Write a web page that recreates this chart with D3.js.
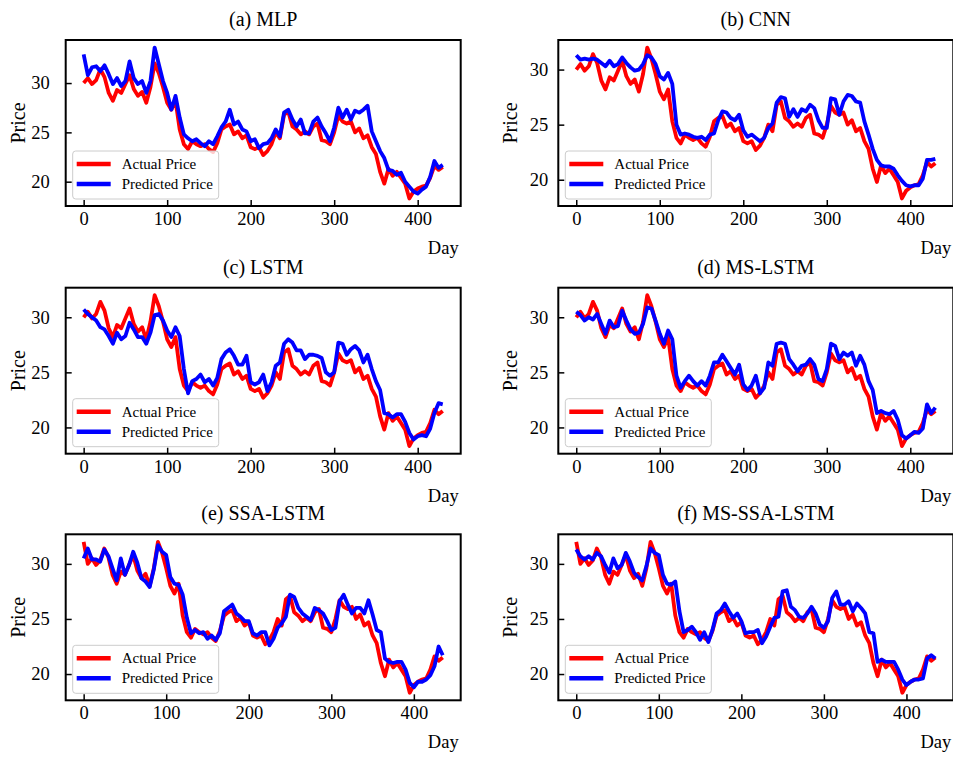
<!DOCTYPE html>
<html>
<head>
<meta charset="utf-8">
<script src="https://cdn.jsdelivr.net/npm/d3@7"></script>
<style>
  body { margin: 0; background: #ffffff; }
  text { font-family: "Liberation Serif", "Times New Roman", serif; fill: #000; }
</style>
</head>
<body>
<svg id="chart" width="953" height="757"></svg>
<script>
// Closing price sampled every 5 trading days over the long (SSA) test window.
// The MLP / CNN / LSTM / MS-LSTM windows start 5 days later (leadDays).
const sampleStep = 5;
const leadDays = 5;

const actualPrice = [
  32.0,
  30.0, 30.5, 29.9, 30.3, 31.4, 30.6, 29.0, 28.2, 29.3, 29.0,
  29.9, 30.8, 29.4, 28.7, 29.1, 28.0, 29.6, 32.0, 31.0, 29.6,
  28.0, 27.3, 28.2, 25.3, 23.8, 23.3, 24.1, 23.8, 23.6, 23.8,
  23.3, 23.0, 23.9, 25.3, 25.6, 25.8, 24.8, 25.1, 24.4, 24.7,
  23.5, 23.3, 23.5, 22.7, 23.1, 23.8, 25.0, 24.4, 26.8, 27.1,
  25.6, 25.3, 24.8, 25.1, 24.8, 25.6, 25.9, 24.2, 24.1, 23.8,
  25.0, 26.7, 26.1, 25.9, 26.1, 25.0, 25.4, 24.4, 24.7, 23.5,
  22.8, 21.0, 19.8, 21.3, 20.6, 21.0, 20.4, 19.8, 18.3, 19.0,
  19.3, 19.5, 19.6, 20.4, 21.6, 21.2, 21.5
];

const predMLP = [
  32.9, 30.8, 31.6, 31.7, 31.2, 31.8, 30.9, 29.9, 30.5, 29.7,
  30.2, 32.2, 30.5, 29.9, 30.2, 29.0, 30.2, 33.6, 31.9, 30.2,
  29.0, 27.3, 28.7, 26.5, 24.8, 24.4, 24.1, 24.3, 23.9, 23.6,
  24.1, 23.8, 24.6, 25.5, 26.1, 27.3, 25.8, 26.1, 25.3, 25.1,
  24.1, 24.3, 23.4, 23.8, 23.9, 24.4, 25.3, 24.6, 27.0, 27.3,
  26.3, 25.6, 26.3, 24.9, 24.9, 26.1, 26.5, 25.6, 24.9, 24.1,
  25.5, 27.5, 26.5, 27.3, 26.3, 27.2, 27.0, 27.3, 27.7, 25.1,
  24.1, 23.1, 22.4, 21.2, 21.1, 20.7, 20.9, 20.0, 19.5, 19.0,
  18.8, 19.2, 19.5, 20.5, 22.1, 21.4, 21.7
];

const predCNN = [
  31.3, 30.9, 31.0, 30.9, 31.0, 30.9, 30.6, 30.3, 30.8, 30.3,
  30.5, 31.1, 30.6, 30.2, 29.9, 30.0, 30.5, 31.3, 31.1, 30.5,
  29.4, 29.1, 29.7, 28.7, 25.0, 24.1, 24.2, 24.1, 23.9, 23.8,
  23.9, 23.6, 24.1, 24.2, 25.4, 26.2, 26.1, 25.6, 25.4, 25.9,
  24.5, 23.9, 24.1, 23.8, 23.5, 23.8, 24.7, 25.1, 27.0, 27.5,
  27.4, 25.7, 26.4, 25.7, 26.4, 26.2, 26.8, 26.5, 25.4, 24.7,
  24.7, 27.4, 27.3, 25.9, 27.1, 27.7, 27.6, 27.1, 27.0, 25.3,
  24.1, 22.8, 21.8, 21.3, 21.2, 21.2, 21.0, 20.4, 19.9, 19.5,
  19.4, 19.5, 19.5, 20.1, 21.8, 21.8, 21.9
];

const predLSTM = [
  30.7, 30.3, 30.0, 29.7, 29.1, 28.9, 28.3, 27.6, 28.6, 28.0,
  28.3, 29.5, 28.9, 28.2, 28.2, 27.6, 28.6, 30.2, 30.3, 29.7,
  28.8, 28.2, 29.1, 28.3, 25.3, 23.1, 24.2, 24.4, 24.8, 24.1,
  24.4, 23.8, 24.5, 26.2, 26.8, 27.1, 26.5, 25.7, 25.7, 26.5,
  24.1, 23.9, 24.1, 24.8, 23.3, 24.1, 25.6, 25.9, 27.6, 28.0,
  27.7, 27.0, 27.0, 26.2, 26.6, 26.6, 26.5, 26.3, 25.0, 24.7,
  25.0, 27.7, 27.6, 26.6, 27.1, 27.4, 27.0, 25.9, 26.6, 25.3,
  24.2, 23.4, 21.3, 21.2, 20.9, 21.2, 21.2, 20.5, 19.5, 18.9,
  19.2, 19.3, 19.2, 19.9, 21.3, 22.2, 22.1
];

const predMSLSTM = [
  30.5, 30.2, 29.7, 30.0, 29.8, 30.3, 29.4, 28.5, 29.7, 29.1,
  29.2, 30.6, 29.7, 28.9, 28.5, 28.6, 29.4, 30.9, 30.8, 29.7,
  28.5, 27.6, 28.8, 28.0, 24.7, 23.6, 24.2, 24.7, 24.2, 23.8,
  24.2, 23.8, 24.7, 25.9, 25.9, 26.6, 26.0, 25.4, 24.8, 25.7,
  23.9, 23.4, 23.8, 24.7, 23.1, 23.6, 25.9, 25.6, 27.6, 27.7,
  27.6, 26.2, 25.7, 25.1, 25.6, 25.7, 26.2, 25.7, 24.4, 24.2,
  25.3, 27.6, 27.4, 26.2, 26.8, 26.5, 26.8, 25.6, 26.5, 25.7,
  24.2, 23.4, 21.3, 21.5, 21.3, 21.2, 21.5, 20.7, 19.3, 19.0,
  19.3, 19.6, 19.5, 19.9, 22.1, 21.3, 21.8
];

const predSSALSTM = [
  30.5, 31.4, 30.4, 30.4, 30.2, 31.3, 30.7, 29.6, 28.5, 30.5,
  29.0, 29.9, 31.1, 30.1, 28.7, 28.4, 27.9, 29.5, 31.7, 31.1,
  30.8, 28.8, 28.2, 28.1, 27.2, 25.1, 23.7, 24.0, 23.7, 23.8,
  23.2, 23.5, 23.1, 23.7, 25.7, 26.0, 26.3, 25.5, 25.2, 24.8,
  24.8, 23.7, 23.5, 23.8, 23.8, 22.6, 23.2, 24.2, 24.6, 25.2,
  27.2, 27.0, 26.0, 25.5, 25.2, 24.9, 26.0, 25.8, 25.5, 24.8,
  24.0, 24.2, 26.6, 27.2, 26.3, 25.5, 26.0, 26.0, 25.5, 26.7,
  25.4, 24.0, 23.8, 21.4, 21.1, 21.0, 21.1, 21.1, 20.4, 19.2,
  18.8, 19.3, 19.3, 19.5, 19.9, 20.7, 22.5, 21.7
];

const predMSSSALSTM = [
  31.3, 30.7, 30.4, 30.7, 30.4, 31.0, 30.7, 29.9, 29.2, 30.5,
  29.6, 29.9, 31.0, 30.2, 29.2, 28.8, 28.5, 29.8, 31.4, 31.0,
  30.8, 29.0, 28.2, 28.1, 28.4, 25.7, 23.8, 24.0, 24.3, 23.8,
  23.1, 23.8, 22.9, 24.0, 25.5, 25.8, 26.4, 25.7, 25.1, 25.5,
  24.8, 23.7, 23.8, 23.8, 24.0, 22.8, 23.4, 24.3, 25.1, 25.2,
  27.5, 27.6, 26.1, 25.8, 25.2, 25.1, 25.5, 26.1, 25.5, 24.5,
  24.2, 24.8, 26.9, 27.5, 26.3, 26.3, 26.6, 25.7, 26.4, 26.0,
  25.5, 23.8, 23.7, 21.1, 21.3, 21.1, 21.1, 21.1, 20.4, 19.5,
  19.0, 19.3, 19.5, 19.5, 19.6, 21.4, 21.7, 21.4
];

const panelTitles = ["(a) MLP", "(b) CNN", "(c) LSTM", "(d) MS-LSTM", "(e) SSA-LSTM", "(f) MS-SSA-LSTM"];
const predictions = [predMLP, predCNN, predLSTM, predMSLSTM, predSSALSTM, predMSSSALSTM];
// true when the model's test window begins leadDays later than the SSA window
const lateStart = [true, true, true, true, false, false];
const xTickValues = [0, 100, 200, 300, 400];
const yTickValues = [20, 25, 30];
const legendLabels = ["Actual Price", "Predicted Price"];
const seriesColors = ["#ff0000", "#0000ff"];

// ---- layout ----
const colLeft = [65.7, 558.3];
const rowTop = [40, 287.7, 534.3];
const boxW = 395, boxH = 166;
const yLabelPad = [16, 10];

const svg = d3.select("#chart");

function padded(extent) {
  const span = extent[1] - extent[0];
  return [extent[0] - 0.05 * span, extent[1] + 0.05 * span];
}

panelTitles.forEach((title, i) => {
  const col = i % 2, row = Math.floor(i / 2);
  const actual = lateStart[i] ? actualPrice.slice(1) : actualPrice;
  const pred = predictions[i];
  const days = actual.map((_, k) => k * sampleStep);

  const actualPts = actual.map((v, k) => [days[k], v]);
  const predPts = pred.map((v, k) => [days[k], v]);

  const x = d3.scaleLinear()
    .domain(padded(d3.extent(days)))
    .range([0, boxW]);
  const y = d3.scaleLinear()
    .domain(padded(d3.extent(actual.concat(pred))))
    .range([boxH, 0]);

  const g = svg.append("g")
    .attr("transform", `translate(${colLeft[col]},${rowTop[row]})`);

  const line = d3.line().x(d => x(d[0])).y(d => y(d[1]));

  g.append("path").datum(actualPts)
    .attr("d", line).attr("fill", "none")
    .attr("stroke", seriesColors[0]).attr("stroke-width", 3.8)
    .attr("stroke-linejoin", "round");
  g.append("path").datum(predPts)
    .attr("d", line).attr("fill", "none")
    .attr("stroke", seriesColors[1]).attr("stroke-width", 3.8)
    .attr("stroke-linejoin", "round");

  // axes with inward ticks
  const xAxis = g.append("g").attr("transform", `translate(0,${boxH})`)
    .call(d3.axisBottom(x).tickValues(xTickValues).tickFormat(d3.format("d"))
      .tickSizeInner(-6).tickSizeOuter(0).tickPadding(6));
  const yAxis = g.append("g")
    .call(d3.axisLeft(y).tickValues(yTickValues).tickFormat(d3.format("d"))
      .tickSizeInner(-6).tickSizeOuter(0).tickPadding(yLabelPad[col]));
  [xAxis, yAxis].forEach(a => {
    a.select(".domain").remove();
    a.selectAll(".tick line").attr("stroke", "#000").attr("stroke-width", 1.5);
    a.selectAll(".tick text")
      .style("font-family", '"Liberation Serif", "Times New Roman", serif')
      .style("font-size", "18.5px").attr("fill", "#000");
  });

  // frame
  g.append("rect").attr("width", boxW).attr("height", boxH)
    .attr("fill", "none").attr("stroke", "#000").attr("stroke-width", 2);

  // title and axis labels
  g.append("text").attr("x", boxW / 2).attr("y", -14)
    .attr("text-anchor", "middle").style("font-size", "20px").text(title);
  g.append("text")
    .attr("transform", `translate(-41,${boxH / 2}) rotate(-90)`)
    .attr("text-anchor", "middle").style("font-size", "20px").text("Price");
  g.append("text").attr("x", boxW - 2).attr("y", boxH + 48)
    .attr("text-anchor", "end").style("font-size", "18.5px").text("Day");

  // legend
  const lg = g.append("g").attr("transform", `translate(7,${boxH - 55})`);
  lg.append("rect").attr("width", 146).attr("height", 48).attr("rx", 3)
    .attr("fill", "#fff").attr("fill-opacity", 0.8)
    .attr("stroke", "#cccccc").attr("stroke-width", 1);
  legendLabels.forEach((lab, j) => {
    const ly = 13 + j * 20;
    lg.append("line").attr("x1", 4).attr("x2", 38).attr("y1", ly).attr("y2", ly)
      .attr("stroke", seriesColors[j]).attr("stroke-width", 4.5);
    lg.append("text").attr("x", 49).attr("y", ly + 5)
      .style("font-size", "15px").text(lab);
  });
});
</script>
</body>
</html>
